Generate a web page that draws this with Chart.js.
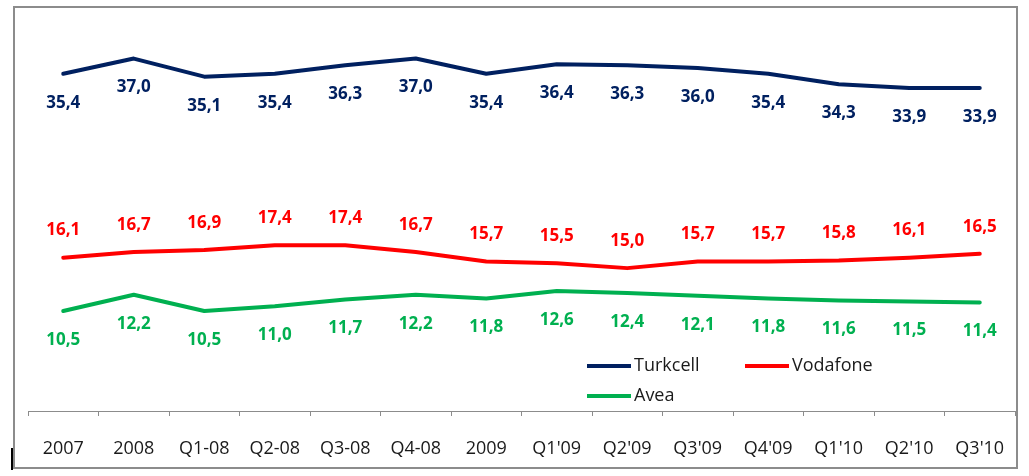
<!DOCTYPE html>
<html>
<head>
<meta charset="utf-8">
<script src="https://cdn.jsdelivr.net/npm/chart.js@4/dist/chart.umd.min.js"></script>
<style>
  html, body { margin: 0; padding: 0; background: #fff; }
  #wrap { width: 1029px; height: 476px; position: relative; }
</style>
</head>
<body>
<div id="wrap"><canvas id="myChart"></canvas></div>
<script>
const labels = ["2007", "2008", "Q1-08", "Q2-08", "Q3-08", "Q4-08", "2009", "Q1'09", "Q2'09", "Q3'09", "Q4'09", "Q1'10", "Q2'10", "Q3'10"];
const turkcell = [35.4, 37.0, 35.1, 35.4, 36.3, 37.0, 35.4, 36.4, 36.3, 36.0, 35.4, 34.3, 33.9, 33.9];
const vodafone = [16.1, 16.7, 16.9, 17.4, 17.4, 16.7, 15.7, 15.5, 15.0, 15.7, 15.7, 15.8, 16.1, 16.5];
const avea = [10.5, 12.2, 10.5, 11.0, 11.7, 12.2, 11.8, 12.6, 12.4, 12.1, 11.8, 11.6, 11.5, 11.4];

const FONT = "'Open Sans', 'Liberation Sans', sans-serif";

// value labels, above or below each point
const valueLabels = {
  id: "valueLabels",
  afterDatasetsDraw: (chart) => {
    const { ctx } = chart;
    ctx.save();
    ctx.font = "bold 17px " + FONT;
    ctx.textAlign = "center";
    ctx.textBaseline = "middle";
    chart.data.datasets.forEach((ds, i) => {
      const meta = chart.getDatasetMeta(i);
      ctx.fillStyle = ds.borderColor;
      meta.data.forEach((pt, j) => {
        const txt = ds.data[j].toFixed(1).replace(".", ",");
        ctx.fillText(txt, pt.x, pt.y + ds.labelOffset);
      });
    });
    ctx.restore();
  },
};

// legend inside the plot, bottom right
const innerLegend = {
  id: "innerLegend",
  afterDraw: (chart) => {
    const { ctx } = chart;
    const items = [
      { ds: 0, x: 587, y: 366 },
      { ds: 1, x: 745, y: 366 },
      { ds: 2, x: 587, y: 396 },
    ];
    ctx.save();
    ctx.font = "18px " + FONT;
    ctx.textBaseline = "middle";
    ctx.textAlign = "left";
    items.forEach((it) => {
      const ds = chart.data.datasets[it.ds];
      ctx.strokeStyle = ds.borderColor;
      ctx.lineWidth = 4;
      ctx.beginPath();
      ctx.moveTo(it.x, it.y);
      ctx.lineTo(it.x + 44, it.y);
      ctx.stroke();
      ctx.fillStyle = "#1a1a1a";
      ctx.fillText(ds.label, it.x + 47, it.y);
    });
    ctx.restore();
  },
};

// grey frame around the picture
const frame = {
  id: "frame",
  beforeDraw: (chart) => {
    const { ctx } = chart;
    ctx.save();
    ctx.fillStyle = "#fff";
    ctx.fillRect(0, 0, chart.width, chart.height);
    ctx.strokeStyle = "#8c8c8c";
    ctx.lineWidth = 2;
    ctx.strokeRect(14, 7, 1003, 461);
    ctx.fillStyle = "#000";
    ctx.fillRect(11, 448, 2, 22);
    ctx.restore();
  },
};

new Chart(document.getElementById("myChart"), {
  type: "line",
  data: {
    labels: labels,
    datasets: [
      { label: "Turkcell", data: turkcell, borderColor: "#002060", labelOffset: 29 },
      { label: "Vodafone", data: vodafone, borderColor: "#ff0000", labelOffset: -27 },
      { label: "Avea", data: avea, borderColor: "#00b050", labelOffset: 29 },
    ],
  },
  options: {
    responsive: true,
    maintainAspectRatio: false,
    animation: false,
    layout: { padding: { left: 28, right: 14, top: 30, bottom: 17 } },
    elements: {
      line: { borderWidth: 4, tension: 0, borderJoinStyle: "round", borderCapStyle: "round" },
      point: { radius: 0, hoverRadius: 0 },
    },
    plugins: {
      legend: { display: false },
      tooltip: { enabled: false },
    },
    scales: {
      y: { display: false, min: 0, max: 40 },
      x: {
        offset: true,
        afterFit: (scale) => { scale.height = 48; },
        grid: {
          offset: true,
          drawOnChartArea: false,
          drawTicks: true,
          tickLength: 5,
          color: "#8c8c8c",
        },
        border: { color: "#8c8c8c", width: 1 },
        ticks: {
          color: "#1a1a1a",
          font: { family: FONT, size: 18 },
          padding: 22,
          autoSkip: false,
          maxRotation: 0,
        },
      },
    },
  },
  plugins: [frame, valueLabels, innerLegend],
});
</script>
</body>
</html>
